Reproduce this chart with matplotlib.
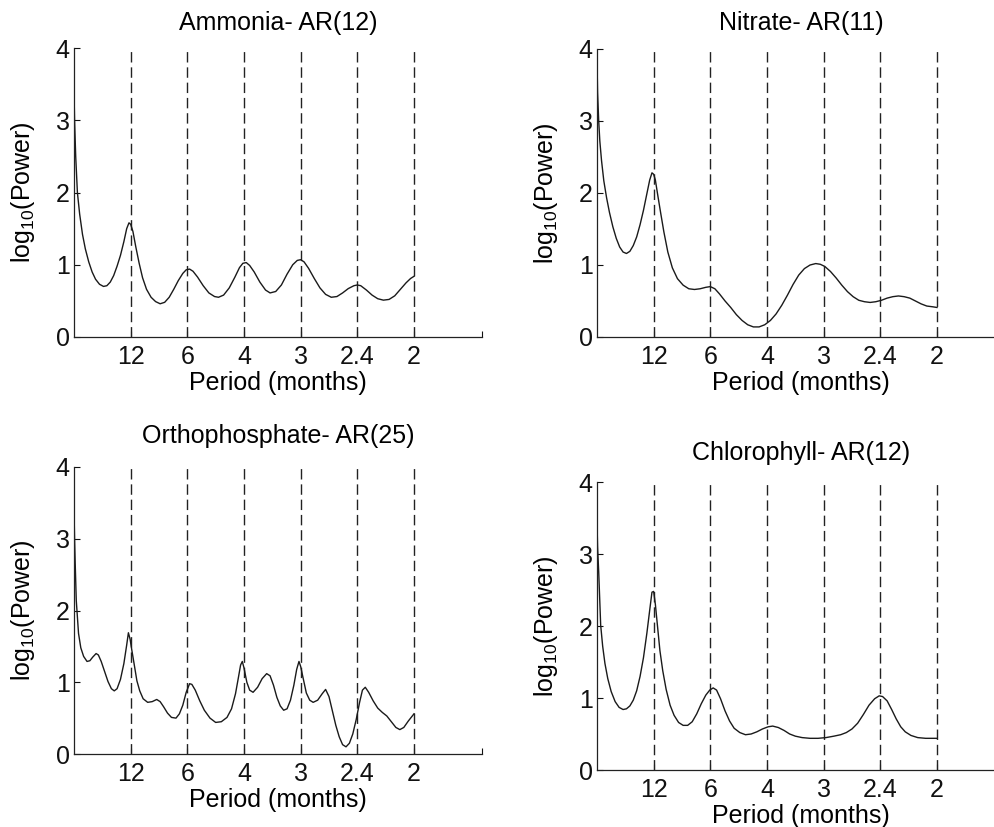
import matplotlib
matplotlib.use("Agg")
import matplotlib.pyplot as plt

plt.rcParams['font.family'] = ['Liberation Sans', 'DejaVu Sans']
plt.rcParams['mathtext.fontset'] = 'custom'
plt.rcParams['mathtext.rm'] = 'Liberation Sans'
plt.rcParams['mathtext.it'] = 'Liberation Sans:italic'

# x values: frequency in cycles per year (period in months = 12 / x)
tick_freq = [1, 2, 3, 4, 5, 6]
tick_labels = ["12", "6", "4", "3", "2.4", "2"]
x_max = 7.2

titles = ["Ammonia- AR(12)", "Nitrate- AR(11)",
          "Orthophosphate- AR(25)", "Chlorophyll- AR(12)"]

ammonia_f = [0.00, 0.01, 0.03, 0.06, 0.10, 0.15, 0.20, 0.26, 0.32, 0.38, 0.45,
             0.52, 0.58, 0.64, 0.70, 0.76, 0.82, 0.88, 0.93, 0.97, 1.00, 1.04,
             1.09, 1.15, 1.21, 1.28, 1.36, 1.44, 1.52, 1.60, 1.68, 1.76, 1.84,
             1.92, 1.98, 2.04, 2.10, 2.18, 2.28, 2.38, 2.48, 2.55, 2.64, 2.74,
             2.84, 2.92, 2.98, 3.04, 3.10, 3.18, 3.28, 3.38, 3.46, 3.56, 3.66,
             3.76, 3.86, 3.94, 4.00, 4.06, 4.14, 4.24, 4.34, 4.44, 4.54, 4.64,
             4.74, 4.84, 4.94, 5.00, 5.06, 5.16, 5.26, 5.36, 5.46, 5.56, 5.66,
             5.76, 5.86, 5.94, 6.00]
ammonia_p = [3.40, 3.00, 2.50, 2.00, 1.70, 1.42, 1.22, 1.04, 0.90, 0.80, 0.73,
             0.70, 0.71, 0.76, 0.85, 0.98, 1.13, 1.32, 1.50, 1.58, 1.56, 1.46,
             1.25, 1.02, 0.82, 0.66, 0.55, 0.49, 0.46, 0.48, 0.55, 0.66, 0.78,
             0.88, 0.93, 0.94, 0.91, 0.83, 0.71, 0.61, 0.56, 0.55, 0.58, 0.68,
             0.83, 0.96, 1.02, 1.03, 0.99, 0.90, 0.76, 0.65, 0.61, 0.63, 0.72,
             0.87, 1.00, 1.06, 1.07, 1.04, 0.95, 0.81, 0.68, 0.59, 0.55, 0.56,
             0.61, 0.67, 0.71, 0.72, 0.71, 0.65, 0.58, 0.53, 0.51, 0.52, 0.57,
             0.66, 0.75, 0.81, 0.84]

nitrate_f = [0.00, 0.01, 0.03, 0.05, 0.08, 0.12, 0.17, 0.22, 0.28, 0.34, 0.40,
             0.46, 0.52, 0.58, 0.64, 0.70, 0.76, 0.82, 0.88, 0.93, 0.97, 1.00,
             1.03, 1.07, 1.12, 1.18, 1.25, 1.33, 1.42, 1.52, 1.62, 1.72, 1.82,
             1.92, 2.00, 2.08, 2.16, 2.26, 2.36, 2.46, 2.56, 2.66, 2.76, 2.86,
             2.96, 3.06, 3.16, 3.26, 3.36, 3.46, 3.56, 3.66, 3.76, 3.86, 3.94,
             4.02, 4.12, 4.22, 4.32, 4.42, 4.52, 4.62, 4.72, 4.82, 4.92, 5.02,
             5.12, 5.22, 5.32, 5.42, 5.52, 5.62, 5.72, 5.82, 5.92, 6.00]
nitrate_p = [3.84, 3.40, 3.00, 2.72, 2.45, 2.17, 1.93, 1.73, 1.53, 1.37, 1.25,
             1.18, 1.16, 1.19, 1.27, 1.39, 1.56, 1.76, 1.99, 2.18, 2.28, 2.26,
             2.18, 1.98, 1.74, 1.46, 1.18, 0.96, 0.81, 0.72, 0.67, 0.66, 0.67,
             0.69, 0.70, 0.67, 0.60, 0.50, 0.41, 0.31, 0.23, 0.17, 0.14, 0.14,
             0.17, 0.23, 0.32, 0.44, 0.58, 0.73, 0.86, 0.95, 1.00, 1.02, 1.01,
             0.98, 0.91, 0.82, 0.72, 0.63, 0.56, 0.51, 0.49, 0.48, 0.49, 0.51,
             0.54, 0.56, 0.57, 0.56, 0.54, 0.50, 0.46, 0.43, 0.42, 0.41]

ortho_f = [0.00, 0.01, 0.02, 0.04, 0.08, 0.12, 0.17, 0.23, 0.28, 0.33, 0.39,
           0.43, 0.48, 0.54, 0.60, 0.66, 0.71, 0.76, 0.82, 0.88, 0.93, 0.96,
           0.99, 1.02, 1.06, 1.11, 1.16, 1.22, 1.30, 1.38, 1.46, 1.52, 1.58,
           1.65, 1.72, 1.80, 1.86, 1.92, 1.98, 2.04, 2.08, 2.14, 2.22, 2.30,
           2.40, 2.50, 2.60, 2.70, 2.78, 2.85, 2.90, 2.94, 2.97, 3.00, 3.05,
           3.10, 3.16, 3.24, 3.32, 3.40, 3.46, 3.52, 3.58, 3.64, 3.70, 3.76,
           3.82, 3.88, 3.93, 3.97, 4.00, 4.04, 4.10, 4.16, 4.22, 4.30, 4.38,
           4.44, 4.50, 4.56, 4.62, 4.68, 4.74, 4.80, 4.86, 4.92, 4.98, 5.04,
           5.09, 5.14, 5.20, 5.28, 5.36, 5.44, 5.52, 5.60, 5.68, 5.75, 5.82,
           5.90, 6.00]
ortho_p = [3.40, 3.00, 2.69, 2.14, 1.68, 1.48, 1.36, 1.29, 1.30, 1.35, 1.40,
           1.38, 1.29, 1.15, 1.01, 0.91, 0.88, 0.91, 1.04, 1.26, 1.52, 1.69,
           1.60, 1.45, 1.26, 1.02, 0.88, 0.77, 0.72, 0.73, 0.76, 0.73, 0.66,
           0.57, 0.51, 0.50, 0.56, 0.68, 0.86, 0.98, 0.97, 0.89, 0.74, 0.61,
           0.50, 0.44, 0.45, 0.51, 0.63, 0.84, 1.06, 1.24, 1.29, 1.20, 1.00,
           0.89, 0.86, 0.93, 1.05, 1.12, 1.09, 0.96, 0.79, 0.67, 0.61, 0.63,
           0.75, 0.96, 1.18, 1.29, 1.22, 1.07, 0.85, 0.75, 0.72, 0.75, 0.84,
           0.90, 0.80, 0.60, 0.40, 0.24, 0.13, 0.10, 0.15, 0.28, 0.48, 0.72,
           0.89, 0.93, 0.86, 0.74, 0.64, 0.58, 0.53, 0.45, 0.37, 0.34, 0.37,
           0.46, 0.56]

chloro_f = [0.00, 0.01, 0.03, 0.065, 0.10, 0.14, 0.19, 0.25, 0.32, 0.39, 0.46,
            0.52, 0.58, 0.64, 0.70, 0.76, 0.82, 0.88, 0.93, 0.97, 1.00, 1.03,
            1.07, 1.11, 1.16, 1.22, 1.29, 1.36, 1.44, 1.52, 1.60, 1.68, 1.76,
            1.84, 1.92, 1.99, 2.05, 2.11, 2.18, 2.26, 2.34, 2.42, 2.52, 2.62,
            2.72, 2.82, 2.92, 3.02, 3.10, 3.20, 3.30, 3.40, 3.50, 3.62, 3.76,
            3.90, 4.04, 4.18, 4.30, 4.40, 4.50, 4.60, 4.70, 4.80, 4.90, 4.98,
            5.04, 5.12, 5.20, 5.28, 5.36, 5.44, 5.54, 5.66, 5.80, 6.00]
chloro_p = [3.45, 3.10, 2.75, 2.01, 1.72, 1.48, 1.27, 1.09, 0.95, 0.87, 0.84,
            0.85, 0.89, 0.97, 1.10, 1.30, 1.56, 1.90, 2.22, 2.47, 2.48, 2.30,
            1.98, 1.66, 1.38, 1.12, 0.90, 0.76, 0.66, 0.62, 0.62, 0.67, 0.78,
            0.92, 1.04, 1.11, 1.14, 1.11, 0.99, 0.82, 0.68, 0.58, 0.52, 0.49,
            0.50, 0.53, 0.57, 0.60, 0.61, 0.59, 0.55, 0.50, 0.47, 0.45, 0.44,
            0.44, 0.45, 0.47, 0.49, 0.52, 0.57, 0.65, 0.77, 0.90, 0.99, 1.03,
            1.02, 0.96, 0.84, 0.71, 0.60, 0.53, 0.48, 0.45, 0.44, 0.44]

series = [(ammonia_f, ammonia_p), (nitrate_f, nitrate_p),
          (ortho_f, ortho_p), (chloro_f, chloro_p)]

W, H = 995, 827
fig = plt.figure(figsize=(W / 100, H / 100), dpi=100)

# axes boxes in pixels: left, top(y=4), right(x=7.2), bottom(y=0)
boxes = [(74, 48, 482, 337), (597, 49, 1005, 337),
         (74, 467, 482, 754), (597, 482, 1005, 770)]
title_pads = [13, 14, 17, 16]

FS = 18
for i, ((l, t, r, b), (fx, py)) in enumerate(zip(boxes, series)):
    ax = fig.add_axes([l / W, 1 - b / H, (r - l) / W, (b - t) / H])
    ax.set_xlim(0, x_max)
    ax.set_ylim(0, 4)
    for f in tick_freq:
        ax.plot([f, f], [0, 4], color='#222222', lw=1.0, ls=(0, (7.5, 3.5)))
    ax.plot(fx, py, color='#1a1a1a', lw=1.0)
    ax.spines['top'].set_visible(False)
    ax.spines['right'].set_visible(False)
    for s in ('left', 'bottom'):
        ax.spines[s].set_linewidth(0.9)
        ax.spines[s].set_color('#222222')
    ax.set_xticks(tick_freq + [x_max])
    ax.set_xticklabels(tick_labels + [""])
    ax.set_yticks([0, 1, 2, 3, 4])
    ax.set_yticklabels(["0", "1", "2", "3", "4"])
    ax.tick_params(axis='both', direction='in', length=4, width=0.8,
                   labelsize=FS, colors='#111111')
    ax.tick_params(axis='x', pad=6)
    ax.tick_params(axis='y', pad=3)
    ax.set_xlabel("Period (months)", fontsize=FS, labelpad=1)
    ax.set_ylabel(r"log$_{\mathrm{10}}$(Power)", fontsize=FS)
    ax.yaxis.set_label_coords(-0.09, 0.5)
    ax.set_title(titles[i], fontsize=FS, pad=title_pads[i])

fig.savefig("out.png", dpi=100)
